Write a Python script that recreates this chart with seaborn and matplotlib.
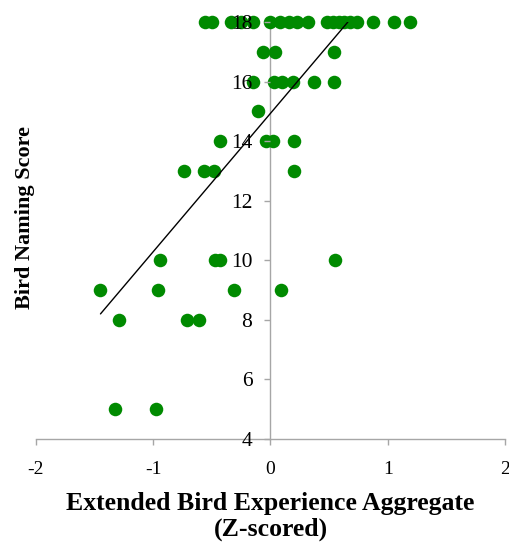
import matplotlib
matplotlib.use("Agg")
import matplotlib.pyplot as plt
import seaborn as sns
import pandas as pd

# Data
experience_z = [
    # score 18
    -0.56, -0.50, -0.34, -0.25, -0.15, 0.00, 0.08, 0.16, 0.23, 0.32,
    0.48, 0.53, 0.58, 0.63, 0.68, 0.74, 0.87, 1.05, 1.19,
    # score 17
    -0.06, 0.04, 0.54,
    # score 16
    -0.15, 0.03, 0.10, 0.19, 0.37, 0.54,
    # score 15
    -0.11,
    # score 14
    -0.43, -0.04, 0.02, 0.20,
    # score 13
    -0.74, -0.57, -0.48, 0.20,
    # score 10
    -0.94, -0.47, -0.43, 0.55,
    # score 9
    -1.45, -0.96, -0.31, 0.09,
    # score 8
    -1.29, -0.71, -0.61,
    # score 5
    -1.33, -0.98,
]
naming_score = (
    [18] * 19 + [17] * 3 + [16] * 6 + [15] * 1 + [14] * 4 + [13] * 4
    + [10] * 4 + [9] * 4 + [8] * 3 + [5] * 2
)
trend_x = [-1.45, 0.66]
trend_y = [8.2, 18.0]
x_ticks = [-2, -1, 0, 1, 2]
y_ticks = [4, 6, 8, 10, 12, 14, 16, 18]

df = pd.DataFrame({"x": experience_z, "y": naming_score})

sns.set_style("white")
plt.rcParams["font.family"] = ["Liberation Serif", "DejaVu Serif"]
plt.rcParams["text.color"] = "black"
plt.rcParams["axes.labelcolor"] = "black"
plt.rcParams["xtick.labelcolor"] = "black"
plt.rcParams["ytick.labelcolor"] = "black"

fig = plt.figure(figsize=(5.10, 5.44), dpi=100)
ax = fig.add_axes([36 / 510, (544 - 439) / 544, (505 - 36) / 510, (439 - 22) / 544])

sns.scatterplot(data=df, x="x", y="y", ax=ax, color="#008a00", s=95,
                linewidth=0, zorder=1, clip_on=False)
ax.plot(trend_x, trend_y, color="black", linewidth=1.0, zorder=2)
ax.set_axisbelow(False)

ax.set_xlim(-2, 2)
ax.set_ylim(4, 18)
ax.set_xticks(x_ticks)
ax.set_yticks(y_ticks)
ax.set_xticklabels([str(t) for t in x_ticks])
ax.set_yticklabels([str(t) for t in y_ticks])

spine_color = "#a6a6a6"
ax.spines["top"].set_visible(False)
ax.spines["right"].set_visible(False)
ax.spines["left"].set_position(("data", 0))
ax.spines["left"].set_color(spine_color)
ax.spines["bottom"].set_color(spine_color)
ax.spines["left"].set_linewidth(1.0)
ax.spines["bottom"].set_linewidth(1.0)
ax.spines["left"].set_zorder(0.5)
ax.spines["bottom"].set_zorder(0.5)

ax.tick_params(axis="x", direction="out", length=4, width=1.0, color=spine_color,
               labelsize=14, pad=12, bottom=True, labelcolor="black")
ax.tick_params(axis="y", direction="out", length=4, width=1.0, color=spine_color,
               labelsize=15.5, pad=9, left=True, labelcolor="black")

ax.set_xlabel("Extended Bird Experience Aggregate\n(Z-scored)", fontsize=18.5,
              fontweight="bold", linespacing=1.15, color="black")
ax.xaxis.set_label_coords(0.5, -0.128)
ax.set_ylabel("Bird Naming Score", fontsize=16, fontweight="bold", color="black")
ax.yaxis.set_label_coords(-0.003, 0.53)

fig.savefig("out.png", dpi=100)
